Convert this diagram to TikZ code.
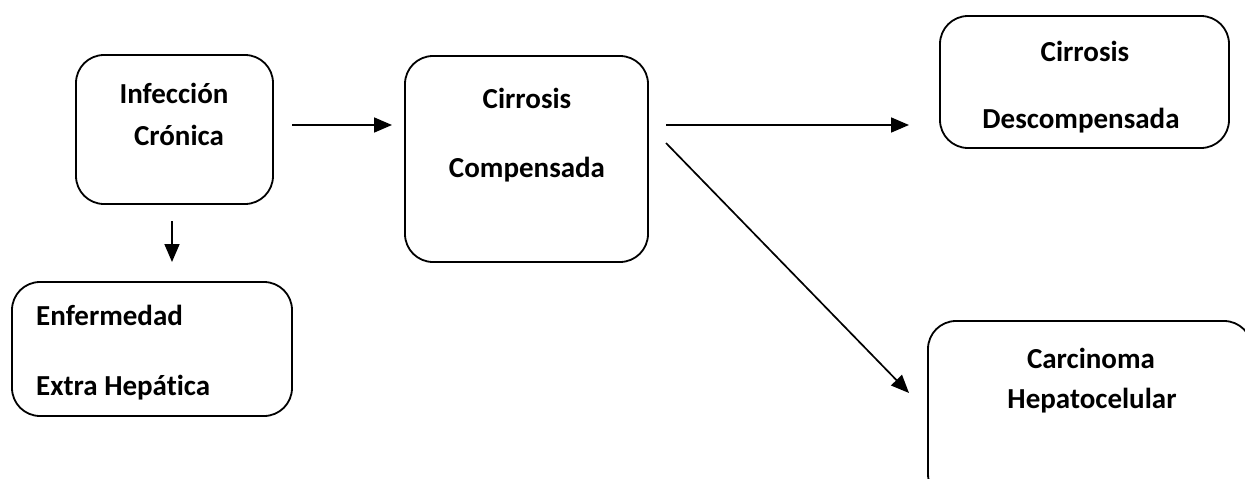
\documentclass[tikz,border=0pt]{standalone}
\usepackage{fontspec}
\setmainfont{Carlito}[Ligatures=CommonOff]
\usetikzlibrary{arrows.meta}
\tikzset{
  box/.style={draw, line width=1.8pt, rounded corners=28pt, inner sep=0pt},
  lbl/.style={anchor=base, inner sep=0pt, font=\fontsize{29}{35}\selectfont\bfseries},
  lbll/.style={anchor=base west, inner sep=0pt, font=\fontsize{29}{35}\selectfont\bfseries},
  arr/.style={line width=1.7pt, -{Triangle[length=18pt,width=15pt]}}
}
\begin{document}
\begin{tikzpicture}[x=1pt,y=-1pt]
\useasboundingbox (0,0) rectangle (1245,479);
\clip (0,0) rectangle (1245,479);
% boxes
\node[box, minimum width=197pt, minimum height=149pt] (inf) at (174.5,129.5) {};
\node[box, minimum width=280pt, minimum height=134pt] (enf) at (152,349) {};
\node[box, minimum width=243pt, minimum height=206pt] (cc) at (526.5,159) {};
\node[box, minimum width=289pt, minimum height=132pt] (cd) at (1084.5,82) {};
\node[box, minimum width=324pt, minimum height=181pt] (hcc) at (1090,411.5) {};
% texts
\node[lbl] (t1) at (174,103) {Infección};
\node[lbl] (t2) at (179,145) {Crónica};
\node[lbll] (t3) at (36,325) {Enfermedad};
\node[lbll] (t4) at (36,395) {Extra Hepática};
\node[lbl] (t5) at (527,108) {Cirrosis};
\node[lbl] (t6) at (527,177) {Compensada};
\node[lbl] (t7) at (1085,61) {Cirrosis};
\node[lbl] (t8) at (1081,128) {Descompensada};
\node[lbl] (t9) at (1091,368) {Carcinoma};
\node[lbl] (t10) at (1092,408) {Hepatocelular};
% connector ends
\coordinate (a1s) at (292,125);
\coordinate (a1e) at (392,125);
\coordinate (a2s) at (172,221);
\coordinate (a2e) at (172,262);
\coordinate (a3s) at (666,125);
\coordinate (a3e) at (909,125);
\coordinate (a4s) at (666,143);
\coordinate (a4e) at (909,393);
\draw[arr] (a1s) -- (a1e);
\draw[arr] (a2s) -- (a2e);
\draw[arr] (a3s) -- (a3e);
\draw[arr] (a4s) -- (a4e);
\end{tikzpicture}
\end{document}
